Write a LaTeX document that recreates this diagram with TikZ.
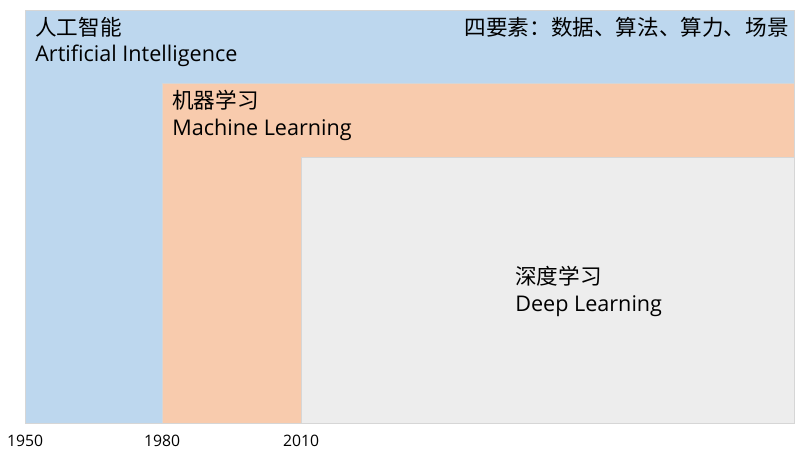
\documentclass[tikz,border=0pt]{standalone}
\usepackage{fontspec}
\setmainfont{Open Sans}
\newfontfamily\cjk{Noto Sans CJK SC}
\definecolor{aiblue}{HTML}{BDD7EE}
\definecolor{mlorange}{HTML}{F8CBAD}
\definecolor{dlgrey}{HTML}{EDEDED}
\definecolor{edgegrey}{HTML}{D6D6D6}

\begin{document}
\begin{tikzpicture}[x=0.75pt,y=-0.75pt,
  area/.style={draw=edgegrey,line width=0.6pt},
  label/.style={anchor=base west,inner sep=0pt,font=\fontsize{16.2}{19}\selectfont},
  year/.style={anchor=base,inner sep=0pt,font=\fontsize{11.8}{14}\selectfont}]
\useasboundingbox (0,0) rectangle (795,450);

% tres areas anidadas
\filldraw[area,fill=aiblue] (25,10) rectangle (794,423);
\filldraw[area,fill=mlorange] (162,83) rectangle (794,423);
\filldraw[area,fill=dlgrey] (301,157) rectangle (794,423);

% inteligencia artificial
\node[label] (ai-cn) at (35,35) {\cjk 人工智能};
\node[label] (ai-en) at (35,61) {Artificial Intelligence};
\node[label,anchor=base east] (elementos) at (789,35) {\cjk 四要素：数据、算法、算力、场景};

% aprendizaje automatico
\node[label] (ml-cn) at (172,108) {\cjk 机器学习};
\node[label] (ml-en) at (172,135) {Machine Learning};

% aprendizaje profundo
\node[label] (dl-cn) at (515,284) {\cjk 深度学习};
\node[label] (dl-en) at (515,311) {Deep Learning};

% eje de tiempo
\node[year] (y1950) at (25,446) {1950};
\node[year] (y1980) at (162,446) {1980};
\node[year] (y2010) at (301,446) {2010};
\end{tikzpicture}
\end{document}
